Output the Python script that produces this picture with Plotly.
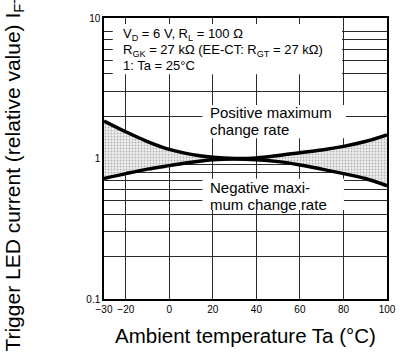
import plotly.graph_objects as go

# ---- data ----
temps = [-30, -20, -10, 0, 10, 20, 30, 40, 50, 60, 70, 80, 90, 100]
upper = [1.85, 1.55, 1.32, 1.16, 1.07, 1.02, 1.00, 1.01, 1.05, 1.10, 1.15, 1.22, 1.32, 1.47]
lower = [0.72, 0.78, 0.84, 0.89, 0.94, 0.98, 0.99, 0.98, 0.95, 0.90, 0.84, 0.78, 0.72, 0.64]

x_ticks = [-30, -20, 0, 20, 40, 60, 80, 100]
x_grid = [-20, 0, 20, 40, 60, 80]
y_ticks = [0.1, 1, 10]
y_ticktext = ["0.1", "1", "10"]
y_minor = [0.2, 0.3, 0.4, 0.5, 0.6, 0.7, 0.8, 0.9, 2, 3, 4, 5, 6, 7, 8]

FONT = "Liberation Sans, Arial, Helvetica, sans-serif"
GRID = "#2a2a2a"

fig = go.Figure()
fig.add_trace(go.Scatter(x=temps, y=lower, mode="lines",
                         line=dict(color="black", width=3.5, shape="spline"),
                         showlegend=False, hoverinfo="skip"))
fig.add_trace(go.Scatter(x=temps, y=upper, mode="lines",
                         line=dict(color="black", width=3.5, shape="spline"),
                         fill="tonexty",
                         fillpattern=dict(shape=".", fgcolor="#777777", bgcolor="#eeeeee",
                                          size=3, solidity=0.3),
                         showlegend=False, hoverinfo="skip"))

# white boxes behind the text blocks (they cover the grid; annotations sit above them)
boxes = [(0.031, 0.800, 0.841, 0.979),
         (0.348, 0.572, 0.855, 0.690),
         (0.348, 0.317, 0.848, 0.428)]
for x0, y0, x1, y1 in boxes:
    fig.add_shape(type="rect", xref="paper", yref="paper", x0=x0, y0=y0, x1=x1, y1=y1,
                  fillcolor="white", line=dict(width=0), layer="above")

def note(text, x, y, size):
    fig.add_annotation(text=text, xref="paper", yref="paper", x=x, y=y,
                       xanchor="left", yanchor="middle", showarrow=False,
                       align="left", font=dict(family=FONT, size=size, color="black"))

note("V<sub>D</sub> = 6 V, R<sub>L</sub> = 100 Ω", 0.061, 0.940, 13)
note("R<sub>GK</sub> = 27 kΩ (EE-CT: R<sub>GT</sub> = 27 kΩ)", 0.061, 0.884, 13)
note("1: Ta = 25°C", 0.061, 0.830, 13)
note("Positive maximum", 0.366, 0.662, 15)
note("change rate", 0.366, 0.604, 15)
note("Negative maxi-", 0.366, 0.397, 15)
note("mum change rate", 0.366, 0.338, 15)

# y axis title as rotated annotation (clipped at top as in reference)
fig.add_annotation(text="Trigger LED current (relative value) I<sub>FT</sub>",
                   xref="paper", yref="paper", x=-0.317, y=-0.195,
                   xanchor="center", yanchor="bottom", textangle=-90, showarrow=False,
                   font=dict(family=FONT, size=21, color="black"))

fig.update_xaxes(range=[-30, 100], tickmode="array", tickvals=x_ticks,
                 showgrid=False, zeroline=False,
                 showline=True, linecolor="black", linewidth=1.5, mirror=True,
                 ticks="", tickfont=dict(family=FONT, size=10, color="black"),
                 title=dict(text="Ambient temperature Ta (°C)",
                            font=dict(family=FONT, size=20.5, color="black"), standoff=15),
                 minor=dict(tickmode="array", tickvals=x_grid, showgrid=True,
                            gridcolor=GRID, gridwidth=1, ticks=""))
fig.update_yaxes(type="log", range=[-1, 1], tickmode="array", tickvals=y_ticks,
                 ticktext=y_ticktext, showgrid=True, gridcolor=GRID, gridwidth=1,
                 zeroline=False, showline=True, linecolor="black", linewidth=1.5,
                 mirror=True, ticks="", tickfont=dict(family=FONT, size=10, color="black"),
                 minor=dict(tickmode="array", tickvals=y_minor, showgrid=True,
                            gridcolor=GRID, gridwidth=1, ticks=""))

fig.update_layout(width=408, height=356, margin=dict(l=104, r=14, t=15, b=51),
                  paper_bgcolor="white", plot_bgcolor="white",
                  font=dict(family=FONT, color="black"))

fig.write_html("out.html")
